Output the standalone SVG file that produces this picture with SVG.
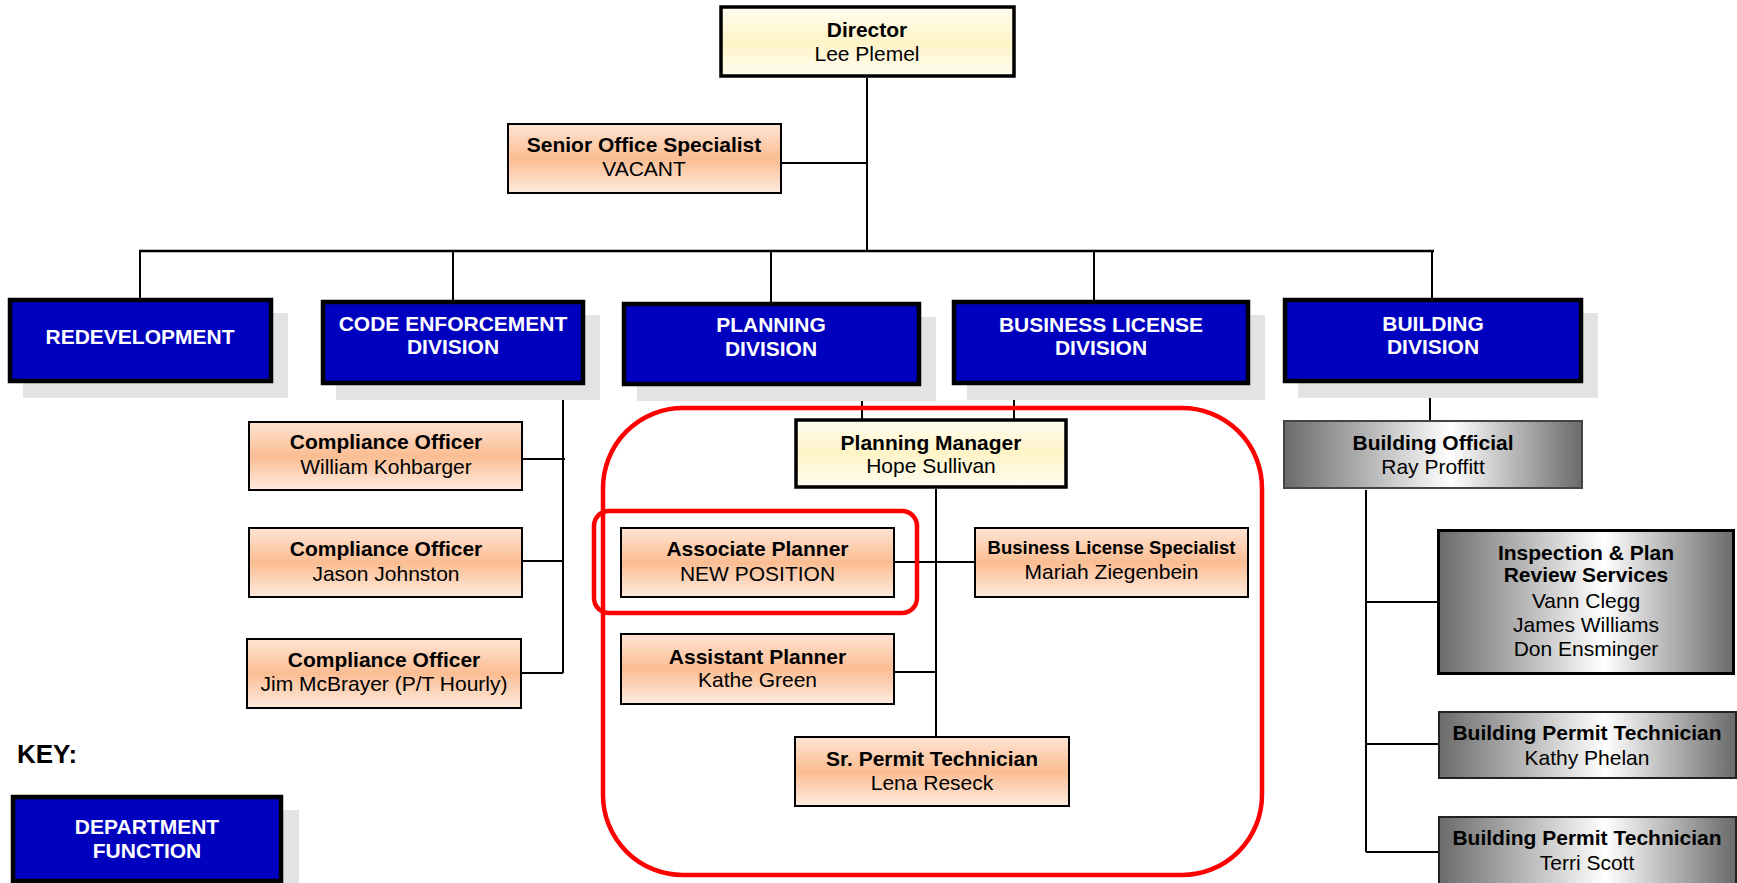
<svg xmlns="http://www.w3.org/2000/svg" width="1737" height="883" viewBox="0 0 1737 883">
<defs>
<linearGradient id="peach" x1="0" y1="0" x2="0" y2="1">
<stop offset="0" stop-color="#fee4d4"/>
<stop offset="0.5" stop-color="#fbbd92"/>
<stop offset="1" stop-color="#feebe0"/>
</linearGradient>
<linearGradient id="yellow" x1="0" y1="0" x2="0" y2="1">
<stop offset="0" stop-color="#fffdf0"/>
<stop offset="0.5" stop-color="#fff4c8"/>
<stop offset="1" stop-color="#fffdf0"/>
</linearGradient>
<linearGradient id="gray" x1="0" y1="0" x2="1" y2="0">
<stop offset="0" stop-color="#6a6a6a"/>
<stop offset="0.56" stop-color="#ffffff"/>
<stop offset="1" stop-color="#6a6a6a"/>
</linearGradient>
<style>
text{font-family:"Liberation Sans",Arial,sans-serif;font-size:21px;text-anchor:middle;fill:#000}
.b{font-weight:bold}
.div rect.box{fill:#0000bf;stroke:#000;stroke-width:4.5}
.div rect.sh{fill:#e3e3e3}
.div text{fill:#fff;font-weight:bold}
.p rect{fill:url(#peach);stroke:#000;stroke-width:2}
.y rect{fill:url(#yellow);stroke:#000;stroke-width:3.5}
.g rect{fill:url(#gray);stroke:#222;stroke-width:2}
.conn line{stroke:#000;stroke-width:2}
.red{fill:none;stroke:#ff0000;stroke-width:4.5}
</style>
</defs>
<rect width="1737" height="883" fill="#fff"/>

<g id="connectors" class="conn">
<line x1="867" y1="78" x2="867" y2="251"/>
<line x1="782" y1="163" x2="867" y2="163"/>
<line x1="139" y1="251" x2="1434" y2="251" style="stroke-width:2.5"/>
<line x1="140" y1="251" x2="140" y2="299"/>
<line x1="453" y1="251" x2="453" y2="301"/>
<line x1="771" y1="251" x2="771" y2="303"/>
<line x1="1094" y1="251" x2="1094" y2="301"/>
<line x1="1432" y1="251" x2="1432" y2="299"/>
<line x1="563" y1="384" x2="563" y2="673"/>
<line x1="523" y1="459" x2="565" y2="459"/>
<line x1="523" y1="561" x2="563" y2="561"/>
<line x1="522" y1="673" x2="563" y2="673"/>
<line x1="862" y1="385" x2="862" y2="419"/>
<line x1="1014" y1="384" x2="1014" y2="419"/>
<line x1="936" y1="489" x2="936" y2="736"/>
<line x1="895" y1="562" x2="974" y2="562"/>
<line x1="895" y1="672" x2="936" y2="672"/>
<line x1="1430" y1="382" x2="1430" y2="420"/>
<line x1="1366" y1="490" x2="1366" y2="852"/>
<line x1="1366" y1="602" x2="1437" y2="602"/>
<line x1="1366" y1="744" x2="1438" y2="744"/>
<line x1="1366" y1="852" x2="1438" y2="852"/>
</g>

<g id="director" class="y">
<rect x="721" y="7" width="293" height="69"/>
<text x="867" y="37" class="b">Director</text>
<text x="867" y="61">Lee Plemel</text>
</g>

<g id="senior-office-specialist" class="p">
<rect x="508" y="124" width="273" height="69"/>
<text x="644" y="152" class="b">Senior Office Specialist</text>
<text x="644" y="176">VACANT</text>
</g>

<g id="redevelopment" class="div">
<rect class="sh" x="23" y="313" width="265" height="85"/>
<rect class="box" x="10" y="300" width="261" height="81"/>
<text x="140" y="344">REDEVELOPMENT</text>
</g>

<g id="code-enforcement" class="div">
<rect class="sh" x="336" y="315" width="264" height="85"/>
<rect class="box" x="323" y="302" width="260" height="81"/>
<text x="453" y="330.5">CODE ENFORCEMENT</text>
<text x="453" y="353.5">DIVISION</text>
</g>

<g id="planning-division" class="div">
<rect class="sh" x="637" y="317" width="299" height="84"/>
<rect class="box" x="624" y="304" width="295" height="80"/>
<text x="771" y="332">PLANNING</text>
<text x="771" y="355.5">DIVISION</text>
</g>

<g id="business-license-division" class="div">
<rect class="sh" x="967" y="315" width="298" height="85"/>
<rect class="box" x="954" y="302" width="294" height="81"/>
<text x="1101" y="331.5">BUSINESS LICENSE</text>
<text x="1101" y="355">DIVISION</text>
</g>

<g id="building-division" class="div">
<rect class="sh" x="1298" y="313" width="300" height="85"/>
<rect class="box" x="1285" y="300" width="296" height="81"/>
<text x="1433" y="330.5">BUILDING</text>
<text x="1433" y="353.5">DIVISION</text>
</g>

<g id="compliance-officer-1" class="p">
<rect x="249" y="422" width="273" height="68"/>
<text x="386" y="449" class="b">Compliance Officer</text>
<text x="386" y="474">William Kohbarger</text>
</g>

<g id="compliance-officer-2" class="p">
<rect x="249" y="528" width="273" height="69"/>
<text x="386" y="555.5" class="b">Compliance Officer</text>
<text x="386" y="580.5">Jason Johnston</text>
</g>

<g id="compliance-officer-3" class="p">
<rect x="247" y="639" width="274" height="69"/>
<text x="384" y="666.5" class="b">Compliance Officer</text>
<text x="384" y="690.5">Jim McBrayer (P/T Hourly)</text>
</g>

<g id="planning-manager" class="y">
<rect x="796" y="420" width="270" height="67"/>
<text x="931" y="449.5" class="b">Planning Manager</text>
<text x="931" y="472.5">Hope Sullivan</text>
</g>

<g id="associate-planner" class="p">
<rect x="621" y="528" width="273" height="69"/>
<text x="757.5" y="555.5" class="b">Associate Planner</text>
<text x="757.5" y="580.5">NEW POSITION</text>
</g>

<g id="business-license-specialist" class="p">
<rect x="975" y="528" width="273" height="69"/>
<text x="1111.5" y="553.5" class="b" style="font-size:18.5px">Business License Specialist</text>
<text x="1111.5" y="578.5">Mariah Ziegenbein</text>
</g>

<g id="assistant-planner" class="p">
<rect x="621" y="634" width="273" height="70"/>
<text x="757.5" y="663.5" class="b">Assistant Planner</text>
<text x="757.5" y="686.5">Kathe Green</text>
</g>

<g id="sr-permit-technician" class="p">
<rect x="795" y="737" width="274" height="69"/>
<text x="932" y="765.5" class="b">Sr. Permit Technician</text>
<text x="932" y="789.5">Lena Reseck</text>
</g>

<g id="building-official" class="g">
<rect x="1284" y="421" width="298" height="67" style="stroke:#444"/>
<text x="1433" y="449.5" class="b">Building Official</text>
<text x="1433" y="473.5">Ray Proffitt</text>
</g>

<g id="inspection-plan-review" class="g">
<rect x="1438.5" y="530.5" width="295" height="143" style="stroke:#000;stroke-width:3"/>
<text x="1586" y="559.5" class="b">Inspection &amp; Plan</text>
<text x="1586" y="582" class="b">Review Services</text>
<text x="1586" y="607.5">Vann Clegg</text>
<text x="1586" y="632">James Williams</text>
<text x="1586" y="655.5">Don Ensminger</text>
</g>

<g id="building-permit-technician-1" class="g">
<rect x="1439" y="712" width="297" height="66"/>
<text x="1587" y="739.5" class="b">Building Permit Technician</text>
<text x="1587" y="764.5">Kathy Phelan</text>
</g>

<g id="building-permit-technician-2" class="g">
<rect x="1439" y="817" width="297" height="80"/>
<text x="1587" y="844.5" class="b">Building Permit Technician</text>
<text x="1587" y="869.5">Terri Scott</text>
</g>

<g id="highlights">
<rect class="red" x="603" y="408" width="659" height="467" rx="80" ry="80"/>
<rect class="red" x="594" y="511" width="323" height="102" rx="15" ry="15"/>
</g>

<g id="key">
<text x="17" y="763" class="b" style="font-size:26px;text-anchor:start">KEY:</text>
<g id="key-department-function" class="div">
<rect class="sh" x="26" y="810" width="273" height="90"/>
<rect class="box" x="13" y="797" width="268" height="84"/>
<text x="147" y="833.5">DEPARTMENT</text>
<text x="147" y="857.5">FUNCTION</text>
</g>
</g>
</svg>
